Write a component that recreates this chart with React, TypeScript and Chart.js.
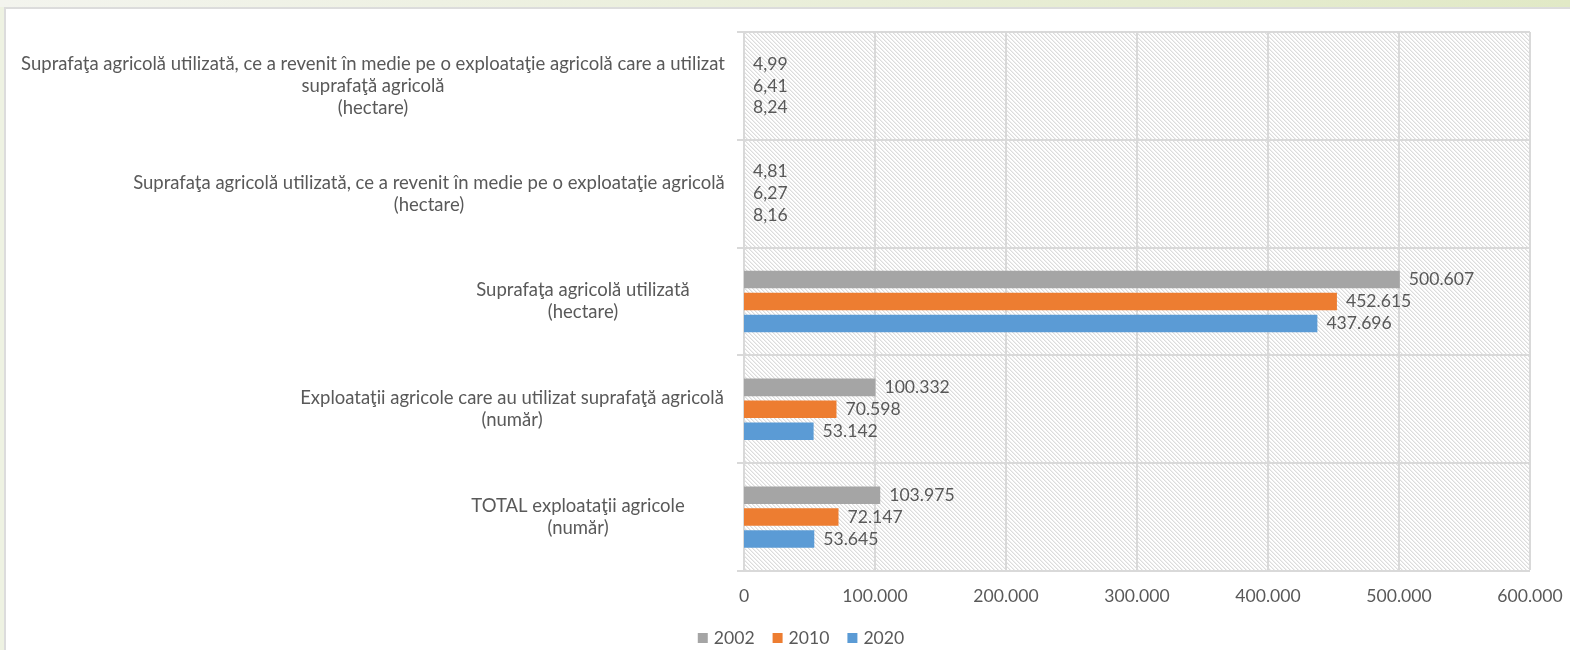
import React, { useEffect, useRef } from "react";
import { Chart, registerables } from "chart.js";

Chart.register(...registerables);

// ---------- data ----------
const categories: string[][] = [
  [
    "Suprafaţa agricolă utilizată, ce a revenit în medie pe o exploataţie agricolă care a utilizat",
    "suprafaţă agricolă",
    "(hectare)",
  ],
  ["Suprafaţa agricolă utilizată, ce a revenit în medie pe o exploataţie agricolă", "(hectare)"],
  ["Suprafaţa agricolă utilizată", "(hectare)"],
  ["Exploataţii agricole care au utilizat suprafaţă agricolă", "(număr)"],
  ["TOTAL exploataţii agricole", "(număr)"],
];

const seriesNames = ["2002", "2010", "2020"];
const values2002 = [4.99, 4.81, 500607, 100332, 103975];
const values2010 = [6.41, 6.27, 452615, 70598, 72147];
const values2020 = [8.24, 8.16, 437696, 53142, 53645];
const xMin = 0;
const xMax = 600000;
const xStep = 100000;

// ---------- layout / style ----------
const labelCenterX = [373, 429, 583, 512, 578];
const COLORS = ["#a5a5a5", "#ed7d31", "#5b9bd5"];
const FONT = "Lato, 'Open Sans', sans-serif";
const LABEL_SIZE = 18.5;
const NUM_SIZE = 17.6;
const TEXT = "#595959";
const GRID = "#d9d9d9";
const LEGEND_CENTER_X = 801;
const LEGEND_Y = 638;

function fmtNumber(v: number): string {
  if (!Number.isInteger(v)) {
    return v.toFixed(2).replace(".", ",");
  }
  const s = Math.round(v).toString();
  return s.replace(/\B(?=(\d{3})+(?!\d))/g, ".");
}

function makePattern(ctx: CanvasRenderingContext2D): CanvasPattern | string {
  const c = document.createElement("canvas");
  c.width = 4;
  c.height = 4;
  const p = c.getContext("2d");
  if (!p) return "#f4f4f4";
  p.fillStyle = "#ffffff";
  p.fillRect(0, 0, 4, 4);
  for (let i = 0; i < 4; i++) {
    p.fillStyle = "#dcdcdc";
    p.fillRect(i, i, 1, 1);
    p.fillStyle = "#efefef";
    p.fillRect((i + 1) % 4, i, 1, 1);
  }
  return ctx.createPattern(c, "repeat") || "#f4f4f4";
}

const allValues = [values2002, values2010, values2020];

const customPlugin = {
  id: "customDraw",
  beforeDraw(chart: any) {
    const { ctx, chartArea: a } = chart;
    ctx.save();
    ctx.fillStyle = makePattern(ctx);
    ctx.fillRect(a.left, a.top, a.right - a.left, a.bottom - a.top);
    ctx.restore();
  },
  afterDatasetsDraw(chart: any) {
    const { ctx } = chart;
    ctx.save();
    ctx.font = `${NUM_SIZE}px ${FONT}`;
    ctx.fillStyle = TEXT;
    ctx.textAlign = "left";
    ctx.textBaseline = "middle";
    allValues.forEach((vals, di) => {
      const meta = chart.getDatasetMeta(di);
      meta.data.forEach((el: any, j: number) => {
        ctx.fillText(fmtNumber(vals[j]), el.x + 9, el.y);
      });
    });
    ctx.restore();
  },
  afterDraw(chart: any) {
    const { ctx } = chart;
    const yScale = chart.scales.y;
    const lineH = 22;
    ctx.save();
    ctx.font = `${LABEL_SIZE}px ${FONT}`;
    ctx.fillStyle = TEXT;
    ctx.textAlign = "center";
    ctx.textBaseline = "middle";
    categories.forEach((lines, i) => {
      const cy = yScale.getPixelForValue(i);
      const n = lines.length;
      lines.forEach((line, j) => {
        ctx.fillText(line, labelCenterX[i], cy + (j - (n - 1) / 2) * lineH);
      });
    });

    // legend
    ctx.font = `${NUM_SIZE}px ${FONT}`;
    ctx.textAlign = "left";
    const box = 10;
    const gapBoxText = 6;
    const gapItems = 18;
    const widths = seriesNames.map((s) => ctx.measureText(s).width);
    const total =
      widths.reduce((acc, w) => acc + box + gapBoxText + w, 0) + gapItems * (seriesNames.length - 1);
    let x = LEGEND_CENTER_X - total / 2;
    seriesNames.forEach((name, i) => {
      ctx.fillStyle = COLORS[i];
      ctx.fillRect(x, LEGEND_Y - box / 2, box, box);
      x += box + gapBoxText;
      ctx.fillStyle = TEXT;
      ctx.fillText(name, x, LEGEND_Y);
      x += widths[i] + gapItems;
    });
    ctx.restore();
  },
};

export default function App() {
  const canvasRef = useRef<HTMLCanvasElement | null>(null);

  useEffect(() => {
    const canvas = canvasRef.current;
    if (!canvas) return;
    const chart = new Chart(canvas, {
      type: "bar",
      data: {
        labels: categories.map((c) => c.join(" ")),
        datasets: seriesNames.map((name, i) => ({
          label: name,
          data: allValues[i],
          backgroundColor: COLORS[i],
          borderWidth: 0,
          inflateAmount: 0,
          categoryPercentage: 0.61,
          barPercentage: 0.8,
        })),
      },
      options: {
        indexAxis: "y",
        responsive: false,
        animation: false,
        devicePixelRatio: 1,
        layout: { padding: { left: 70, right: 40, top: 32, bottom: 42 } },
        plugins: {
          legend: { display: false },
          tooltip: { enabled: false },
        },
        scales: {
          x: {
            type: "linear",
            min: xMin,
            max: xMax,
            ticks: {
              stepSize: xStep,
              color: TEXT,
              font: { family: FONT, size: NUM_SIZE },
              padding: 15,
              callback: (v: any) => fmtNumber(Number(v)),
            },
            grid: {
              color: GRID,
              lineWidth: (c: any) => (c.tick && c.tick.value === 0 ? 0 : 2),
              drawTicks: false,
            },
            border: { display: true, color: GRID, width: 2 },
            afterFit: (scale: any) => {
              scale.height = 37;
              scale.paddingLeft = 0;
              scale.paddingRight = 0;
            },
          },
          y: {
            type: "category",
            ticks: { display: false },
            grid: { color: GRID, lineWidth: 2, offset: true, drawTicks: true, tickLength: 7, tickColor: GRID },
            border: { display: true, color: GRID, width: 2 },
            afterFit: (scale: any) => {
              scale.width = 674;
              scale.paddingTop = 0;
              scale.paddingBottom = 0;
            },
          },
        },
      },
      plugins: [customPlugin],
    } as any);
    return () => chart.destroy();
  }, []);

  return (
    <div
      style={{
        position: "fixed",
        left: 0,
        top: 0,
        width: 1570,
        height: 650,
        background: "#ffffff",
        overflow: "hidden",
      }}
    >
      <div
        style={{
          position: "absolute",
          left: 0,
          top: 0,
          width: 1570,
          height: 7,
          background: "linear-gradient(to right, #f3f4ee, #e1e9c6)",
        }}
      />
      <div style={{ position: "absolute", left: 0, top: 7, width: 4, height: 643, background: "#eef2e2" }} />
      <div style={{ position: "absolute", left: 4, top: 7, width: 1566, height: 2, background: "#dcdcdc" }} />
      <div style={{ position: "absolute", left: 4, top: 7, width: 2, height: 643, background: "#dcdcdc" }} />
      <canvas
        ref={canvasRef}
        width={1570}
        height={650}
        style={{ position: "absolute", left: 0, top: 0, width: 1570, height: 650 }}
      />
    </div>
  );
}
